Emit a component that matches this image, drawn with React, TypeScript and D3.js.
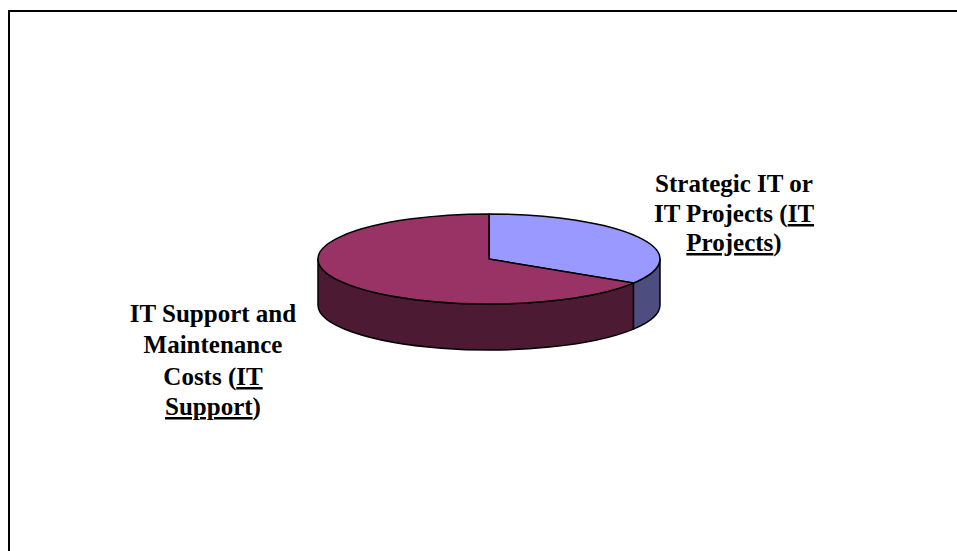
import React from "react";
import * as d3 from "d3";

const categories = ["Strategic IT or IT Projects", "IT Support and Maintenance Costs"];
const values = [34, 66];
const topColors = ["#9999FF", "#993366"];
const sideColors = ["#4D4D80", "#4D1A33"];

const W = 957;
const H = 551;
const cx = 489;
const cy = 259;
const rx = 171;
const ry = 45;
const depth = 46;

const pt = (a: number, dy = 0): [number, number] => [cx + rx * Math.sin(a), cy - ry * Math.cos(a) + dy];

function topPath(a0: number, a1: number) {
  const p0 = pt(a0);
  const p1 = pt(a1);
  const large = a1 - a0 > Math.PI ? 1 : 0;
  return `M${cx},${cy}L${p0[0]},${p0[1]}A${rx},${ry} 0 ${large} 1 ${p1[0]},${p1[1]}Z`;
}

function sidePath(a0: number, a1: number) {
  const s = Math.max(a0, Math.PI / 2);
  const e = Math.min(a1, (3 * Math.PI) / 2);
  if (e <= s) return null;
  const p0 = pt(s);
  const p1 = pt(e);
  const q1 = pt(e, depth);
  const q0 = pt(s, depth);
  return `M${p0[0]},${p0[1]}A${rx},${ry} 0 0 1 ${p1[0]},${p1[1]}L${q1[0]},${q1[1]}A${rx},${ry} 0 0 0 ${q0[0]},${q0[1]}Z`;
}

const font = "'Liberation Serif', 'Times New Roman', serif";

export default function App() {
  const pie = d3.pie<number>().sort(null).value((d) => d);
  const arcs = pie(values);
  return (
    <svg width={W} height={H} style={{ position: "absolute", left: 0, top: 0, display: "block", background: "#fff" }}>
      <rect x={9} y={11} width={W + 10} height={H + 10} fill="#fff" stroke="#000" strokeWidth={2} />
      {arcs.map((a, i) => {
        const d = sidePath(a.startAngle, a.endAngle);
        return d ? <path key={"s" + i} d={d} fill={sideColors[i]} stroke="#000" strokeWidth={1.5} strokeLinejoin="round" /> : null;
      })}
      {arcs.map((a, i) => (
        <path key={"t" + i} d={topPath(a.startAngle, a.endAngle)} fill={topColors[i]} stroke="#000" strokeWidth={1.5} strokeLinejoin="round" />
      ))}
      <g fontFamily={font} fontWeight="bold" fontSize={25} fill="#000" textAnchor="middle">
        <text x={734} y={192}>Strategic IT or</text>
        <text x={734} y={222}>
          IT Projects (<tspan textDecoration="underline">IT </tspan>
        </text>
        <text x={734} y={251}>
          <tspan textDecoration="underline">Projects</tspan>)
        </text>
        <text x={213} y={322}>IT Support and</text>
        <text x={213} y={353}>Maintenance</text>
        <text x={213} y={385}>
          Costs (<tspan textDecoration="underline">IT </tspan>
        </text>
        <text x={213} y={415}>
          <tspan textDecoration="underline">Support</tspan>)
        </text>
      </g>
    </svg>
  );
}
